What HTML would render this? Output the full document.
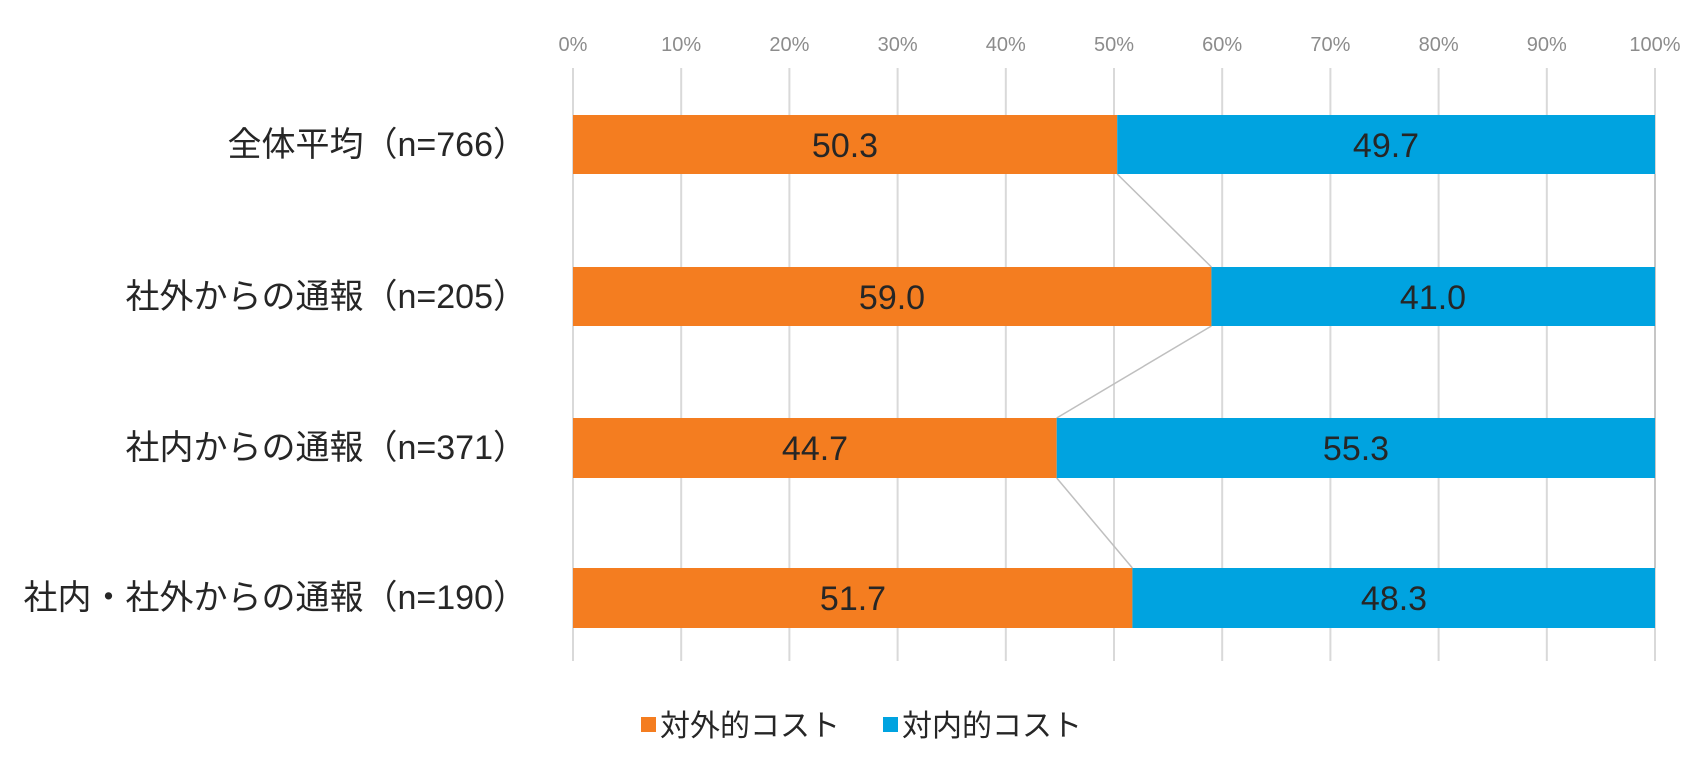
<!DOCTYPE html>
<html><head><meta charset="utf-8"><style>
body{margin:0;background:#fff}
svg text{font-family:"Liberation Sans","Noto Sans CJK JP",sans-serif}
</style></head><body>
<svg width="1705" height="766" xmlns="http://www.w3.org/2000/svg">
<g stroke="#d9d9d9" stroke-width="2">
<line x1="573" y1="68" x2="573" y2="661"/><line x1="681.2" y1="68" x2="681.2" y2="661"/><line x1="789.4" y1="68" x2="789.4" y2="661"/><line x1="897.6" y1="68" x2="897.6" y2="661"/><line x1="1005.8" y1="68" x2="1005.8" y2="661"/><line x1="1114" y1="68" x2="1114" y2="661"/><line x1="1222.2" y1="68" x2="1222.2" y2="661"/><line x1="1330.4" y1="68" x2="1330.4" y2="661"/><line x1="1438.6" y1="68" x2="1438.6" y2="661"/><line x1="1546.8" y1="68" x2="1546.8" y2="661"/><line x1="1655" y1="68" x2="1655" y2="661"/>
</g>
<g fill="#8c8c8c" font-size="20" text-anchor="middle">
<text x="573" y="51">0%</text><text x="681.2" y="51">10%</text><text x="789.4" y="51">20%</text><text x="897.6" y="51">30%</text><text x="1005.8" y="51">40%</text><text x="1114" y="51">50%</text><text x="1222.2" y="51">60%</text><text x="1330.4" y="51">70%</text><text x="1438.6" y="51">80%</text><text x="1546.8" y="51">90%</text><text x="1655" y="51">100%</text>
</g>
<g stroke="#bfbfbf" stroke-width="1.5" fill="none">
<polyline points="1117.2,174 1211.4,267"/><polyline points="1211.4,326 1056.7,418"/><polyline points="1056.7,478 1132.4,568"/>
<line x1="1655" y1="174" x2="1655" y2="568"/>
</g>
<g>
<rect x="573" y="115" width="544.2" height="59" fill="#f47d20"/><rect x="1117.2" y="115" width="537.8" height="59" fill="#00a3e0"/>
<rect x="573" y="267" width="638.4" height="59" fill="#f47d20"/><rect x="1211.4" y="267" width="443.6" height="59" fill="#00a3e0"/>
<rect x="573" y="418" width="483.7" height="60" fill="#f47d20"/><rect x="1056.7" y="418" width="598.3" height="60" fill="#00a3e0"/>
<rect x="573" y="568" width="559.4" height="60" fill="#f47d20"/><rect x="1132.4" y="568" width="522.6" height="60" fill="#00a3e0"/>
</g>
<g fill="#262626" font-size="34" text-anchor="middle">
<text x="845" y="157">50.3</text><text x="1386" y="157">49.7</text>
<text x="892" y="309">59.0</text><text x="1433" y="309">41.0</text>
<text x="815" y="460">44.7</text><text x="1356" y="460">55.3</text>
<text x="853" y="610">51.7</text><text x="1394" y="610">48.3</text>
</g>
<g fill="#262626" font-size="34" text-anchor="end">
<text x="527" y="156">全体平均（n=766）</text>
<text x="527" y="308">社外からの通報（n=205）</text>
<text x="527" y="459">社内からの通報（n=371）</text>
<text x="527" y="609">社内・社外からの通報（n=190）</text>
</g>
<rect x="641" y="717" width="15" height="15" fill="#f47d20"/>
<text x="660" y="736" font-size="30" fill="#262626">対外的コスト</text>
<rect x="883" y="717" width="15" height="15" fill="#00a3e0"/>
<text x="902" y="736" font-size="30" fill="#262626">対内的コスト</text>
</svg>
</body></html>
